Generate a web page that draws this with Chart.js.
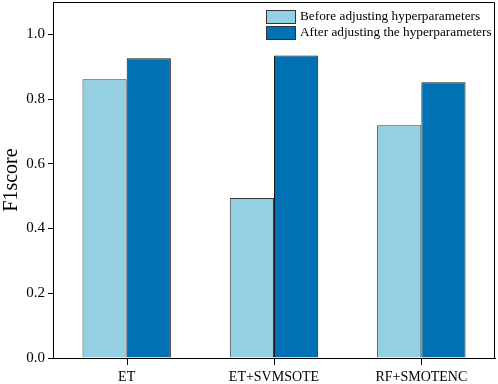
<!DOCTYPE html>
<html>
<head>
<meta charset="utf-8">
<script src="https://cdn.jsdelivr.net/npm/chart.js@4"></script>
<style>
  body { margin: 0; background: #fff; }
  #wrap { width: 498px; height: 384px; }
</style>
</head>
<body>
<div id="wrap"><canvas id="f1Chart" width="498" height="384"></canvas></div>
<script>
const methods = ['ET', 'ET+SVMSOTE', 'RF+SMOTENC'];
const beforeTuning = [0.861, 0.494, 0.719];
const afterTuning = [0.926, 0.935, 0.852];
const seriesNames = ['Before adjusting hyperparameters', 'After adjusting the hyperparameters'];
const yTicks = [0.0, 0.2, 0.4, 0.6, 0.8, 1.0];

const serif = '"Liberation Serif", "Times New Roman", serif';

// top/right frame, x tick marks under each category, legend inside top-right
const boxAndLegend = {
    id: 'boxAndLegend',
    afterDraw(chart) {
        const c = chart.ctx;
        const a = chart.chartArea;
        const xs = chart.scales.x;
        c.save();
        c.strokeStyle = '#000';
        c.lineWidth = 1;
        c.beginPath();
        c.moveTo(a.left, a.top + 0.5);
        c.lineTo(a.right - 0.5, a.top + 0.5);
        c.lineTo(a.right - 0.5, a.bottom);
        methods.forEach((m, i) => {
            const px = Math.round(xs.getPixelForTick(i)) + 0.5;
            c.moveTo(px, a.bottom);
            c.lineTo(px, a.bottom + 7);
        });
        c.stroke();

        c.font = '13.3px ' + serif;
        c.textBaseline = 'middle';
        c.textAlign = 'left';
        const x0 = 266, y0 = 10;
        chart.data.datasets.forEach((ds, i) => {
            const y = y0 + i * 16;
            c.fillStyle = ds.backgroundColor;
            c.fillRect(x0, y, 30, 14);
            c.strokeStyle = '#333';
            c.strokeRect(x0 + 0.5, y + 0.5, 29, 13);
            c.fillStyle = '#000';
            c.fillText(ds.label, x0 + 34, y + 7);
        });
        c.restore();
    }
};

new Chart(document.getElementById('f1Chart'), {
    type: 'bar',
    data: {
        labels: methods,
        datasets: [{
            label: seriesNames[0],
            data: beforeTuning,
            backgroundColor: '#95CFE4',
            borderColor: '#3a3a3a',
            borderWidth: 1,
            categoryPercentage: 0.6,
            barPercentage: 1.0
        }, {
            label: seriesNames[1],
            data: afterTuning,
            backgroundColor: '#0072B4',
            borderColor: '#1a1a1a',
            borderWidth: 1,
            categoryPercentage: 0.6,
            barPercentage: 1.0
        }]
    },
    options: {
        responsive: false,
        animation: false,
        layout: { padding: { top: 2, right: 3, left: 0, bottom: 0 } },
        plugins: {
            legend: { display: false },
            tooltip: { enabled: false }
        },
        scales: {
            x: {
                grid: { display: false },
                border: { display: true, color: '#000', width: 1 },
                ticks: { color: '#000', font: { family: serif, size: 14 }, padding: 3 },
                afterFit(scale) {
                    scale.height = 26;
                    scale.paddingLeft = 0;
                    scale.paddingRight = 0;
                }
            },
            y: {
                min: 0,
                max: 1.1,
                afterBuildTicks(scale) { scale.ticks = yTicks.map(v => ({ value: v })); },
                grid: { display: true, drawOnChartArea: false, drawTicks: true, tickLength: 5, color: '#000' },
                border: { display: true, color: '#000', width: 1 },
                ticks: {
                    color: '#000',
                    font: { family: serif, size: 15 },
                    padding: 3,
                    callback: v => Number(v).toFixed(1)
                },
                title: {
                    display: true,
                    text: 'F1score',
                    color: '#000',
                    font: { family: serif, size: 20 },
                    padding: 0
                },
                afterFit(scale) {
                    scale.width = 53;
                    scale.paddingTop = 0;
                    scale.paddingBottom = 0;
                }
            }
        }
    },
    plugins: [boxAndLegend]
});
</script>
</body>
</html>
